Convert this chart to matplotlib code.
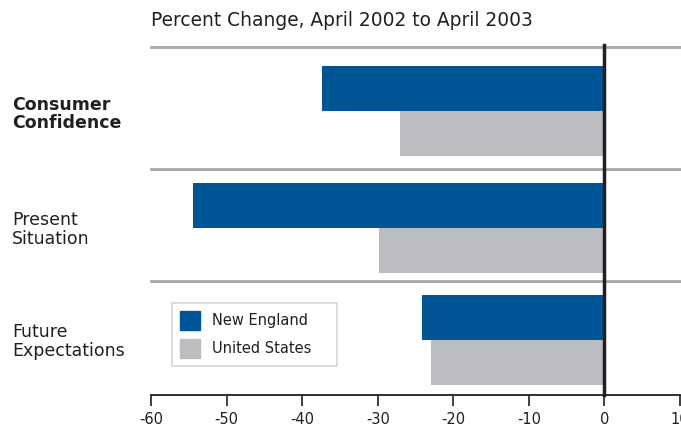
import matplotlib.pyplot as plt
from matplotlib.patches import Patch

categories = ['Consumer\nConfidence', 'Present\nSituation', 'Future\nExpectations']
new_england = [-37.4, -54.4, -24.2]
united_states = [-27.0, -29.8, -22.9]
xticks = [-60, -50, -40, -30, -20, -10, 0, 10]

blue = '#005596'
gray = '#bcbdc1'

plt.rcParams['font.family'] = ['DejaVu Sans']


def main() -> None:
    fig = plt.figure(figsize=(6.81, 4.30), dpi=100)
    ax = fig.add_axes([151 / 681, 35 / 430, 529 / 681, 348 / 430])

    pos = [0, 1.03, 2.015]
    h = 0.395
    ax.barh([p - h / 2 for p in pos], new_england, height=h, color=blue, zorder=2)
    ax.barh([p + h / 2 for p in pos], united_states, height=h, color=gray, zorder=2)

    ax.set_xlim(-60, 10)
    ax.set_ylim(2.5, -0.56)

    # separators
    for y in [-0.56, 0.51, 1.5]:
        ax.axhline(y, color='#a8a8a8', lw=2, zorder=1, clip_on=False)
    ax.axvline(0, color='#231f20', lw=2.5, zorder=3, ymin=0, ymax=1.005, clip_on=False)

    for s in ['top', 'right', 'left']:
        ax.spines[s].set_visible(False)
    ax.spines['bottom'].set_color('#231f20')
    ax.spines['bottom'].set_linewidth(1.3)

    ax.set_xticks(xticks)
    ax.set_xticklabels([str(t) for t in xticks], fontsize=10.5, color='#231f20')
    ax.tick_params(axis='x', direction='out', length=8, width=1.2, color='#231f20', pad=4)
    ax.set_yticks([])

    offsets = [-0.008, -0.004, -0.004]
    for i, lab in enumerate(categories):
        fig.text(12 / 681, ax.transData.transform((0, pos[i]))[1] / 430 + offsets[i], lab,
                 fontsize=12.5, va='center', ha='left', color='#231f20',
                 fontweight='bold' if i == 0 else 'normal', linespacing=1.05)

    fig.text(151 / 681, 1 - 20 / 430, 'Percent Change, April 2002 to April 2003',
             fontsize=13.4, va='center', ha='left', color='#231f20')

    handles = [Patch(color=blue, label='New England'), Patch(color=gray, label='United States')]
    leg = ax.legend(handles=handles, loc='upper left',
                    bbox_to_anchor=(21 / 529, 0.0776, 165 / 529, 0.1868), mode='expand',
                    frameon=True, fancybox=False, edgecolor='#cccccc', fontsize=10.5,
                    handlelength=1.35, handleheight=1.6, borderpad=0.55, labelspacing=0.62,
                    handletextpad=0.85, borderaxespad=0)
    leg.get_frame().set_linewidth(1.2)
    for t in leg.get_texts():
        t.set_color('#231f20')

    fig.savefig('out.png', dpi=100)


if __name__ == '__main__':
    main()
